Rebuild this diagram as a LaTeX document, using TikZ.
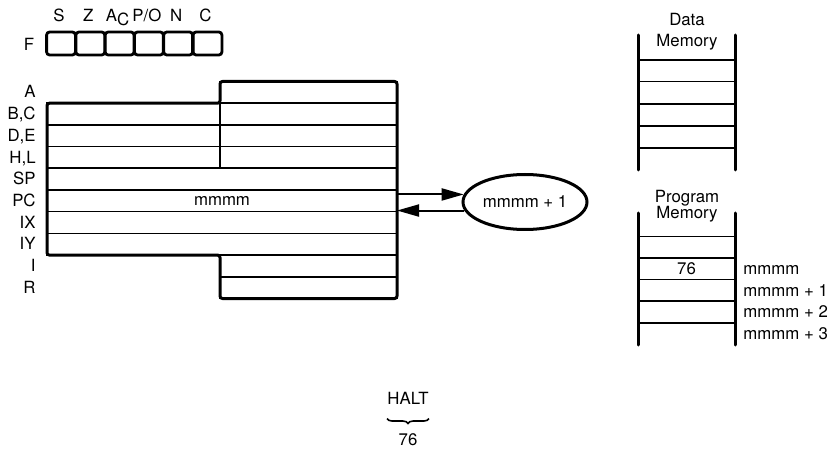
\documentclass[tikz,border=0pt]{standalone}
\usepackage{fontspec}
\setmainfont{TeX Gyre Heros}
\usetikzlibrary{arrows.meta,positioning,shapes,calc,decorations.pathreplacing}

\tikzset{
  txt/.style={font=\fontsize{8.4}{10}\selectfont, inner sep=0pt},
  reglabel/.style={txt, anchor=base east},
  regrow/.style={draw, line width=0.8pt, anchor=north west, minimum height=10.85pt,
                 inner sep=0pt, outer sep=0pt},
  regline/.style={line width=0.8pt},
  regedge/.style={line width=1.5pt, line join=round, rounded corners=1.2pt},
  flagbox/.style={draw, line width=1.4pt, rounded corners=1.5pt, minimum width=14.4pt,
                  minimum height=11.5pt, inner sep=0pt},
  memrail/.style={line width=1.5pt, line cap=round},
  memline/.style={line width=0.8pt},
  bus/.style={line width=1pt, -{Triangle[length=11pt,width=6pt]}}
}

\begin{document}
\begin{tikzpicture}[x=0.5pt,y=-0.5pt]
  \useasboundingbox (0,0) rectangle (840,454);

  % flag register
  \node[txt] (Flbl) at (29,44) {F};
  \foreach \fl [count=\k from 0] in {S,Z,{A\raisebox{-0.45ex}{C}},{P/O},N,C}{
    \node[flagbox] (fl\k) at ({61+29.3*\k},43.5) {};
    \node[txt, anchor=base] (fl\k lbl) at ($(fl\k.north)+(-2,-9)$) {\fl};
  }

  % register file
  \foreach \nm/\lab/\xl [count=\i from 0] in {A/A/220, BC/{B,C}/47, DE/{D,E}/47,
      HL/{H,L}/47, SP/SP/47, PC/PC/47, IX/IX/47, IY/IY/47, I/I/220, R/R/220}{
    \node[regrow, minimum width={(397-\xl)*0.5pt}] (\nm) at (\xl,{81.5+21.7*\i}) {};
    \node[reglabel] (\nm lbl) at (36,{81.5+21.7*\i+16.5}) {\lab};
  }
  \draw[regline] (A.south west) -- (A.south west |- SP.north);
  \draw[regedge] (A.north west) -- (A.north east) -- (R.south east) -- (R.south west)
    -- (I.north west) -- (IY.south west) -- (BC.north west) -- (A.south west) -- cycle;
  \node[txt] (pcval) at (PC) {mmmm};

  % incremented PC
  \node[txt, draw, ellipse, line width=1.5pt, minimum width=62pt, minimum height=27.5pt]
    (inc) at (525,202) {mmmm + 1};
  \draw[bus] (inc.173 -| PC.east) -- (inc.173);
  \draw[bus] (inc.188) -- (inc.188 -| PC.east);

  % data memory
  \node[txt, anchor=base] (dmtop) at (687,26) {Data};
  \node[txt, anchor=base] (dmbot) at (687,46.5) {Memory};
  \draw[memrail] (638,35) -- (638,170);
  \draw[memrail] (735,35) -- (735,170);
  \foreach \y in {60,81.5,104,126,148}
    \draw[memline] (638,\y) -- (735,\y);

  % program memory
  \node[txt, anchor=base] (pmtop) at (687,203) {Program};
  \node[txt, anchor=base] (pmbot) at (687,218.5) {Memory};
  \draw[memrail] (638,213) -- (638,345);
  \draw[memrail] (735,213) -- (735,345);
  \foreach \y in {236.5,258,279.5,301,323}
    \draw[memline] (638,\y) -- (735,\y);
  \node[txt, anchor=base] (op) at (686.5,274.5) {76};
  \foreach \adr/\y in {mmmm/274.5, mmmm + 1/296, mmmm + 2/317.5, mmmm + 3/339.5}
    \node[txt, anchor=base west] at (743,\y) {\adr};

  % instruction
  \node[txt] (halt) at (408,398) {HALT};
  \node[txt] (opcode) at (408,440) {76};
  \draw[decorate, decoration={brace, amplitude=2.5pt, mirror}, line width=0.8pt]
    ($(halt.south west)+(0,14)$) -- ($(halt.south east)+(0,14)$);
\end{tikzpicture}
\end{document}
